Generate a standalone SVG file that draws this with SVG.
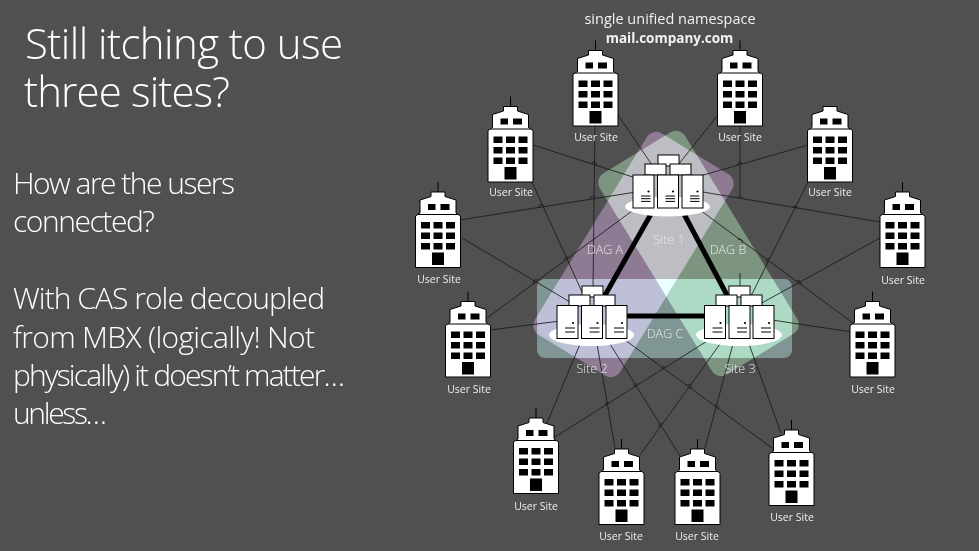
<svg xmlns="http://www.w3.org/2000/svg" width="979" height="551" viewBox="0 0 979 551">
<style>
text{font-family:"Open Sans","Noto Sans","Liberation Sans",sans-serif;fill:#fff}
.t{font-size:42px;font-weight:300}
.b{font-size:30px;font-weight:300}
.u{font-size:10.5px;text-anchor:middle;fill:#eee}
.d{font-size:12.5px;text-anchor:middle;fill:#e8e8e8;font-weight:300}
.n{font-size:14.5px;text-anchor:middle;fill:#f2f2f2}
.m{font-size:13.5px;font-weight:700;text-anchor:middle;fill:#f2f2f2}
.dag{mix-blend-mode:plus-lighter}
.thin{stroke:#1a1a1a;stroke-width:.85;fill:none}
.thick{stroke:#000;stroke-width:5;fill:none}
.ant{stroke:#000;stroke-width:1}
</style>
<defs>
<g id="bldg">
<path d="M-7 10H7V14.500L18 18V31L22.500 34V85.500H-22.500V34L-18 31V18L-7 14.500Z" fill="#fff" stroke="#000" stroke-width="1"/>
<path d="M-20 32.500H20" stroke="#000" stroke-width="1"/>
<path d="M-10 22h7.500v6h-7.500zM2.500 22h9v6h-9zM-17 40h9v6.500h-9zM-4.500 40h9v6.500h-9zM8 40h9v6.500h-9zM-17 50.500h9v6.500h-9zM-4.500 50.500h9v6.500h-9zM8 50.500h9v6.500h-9zM-17 61h9v6.500h-9zM-4.500 61h9v6.500h-9zM8 61h9v6.500h-9zM-6 70.500h12v12.500h-12z" fill="#000"/>
</g>
<g id="srv3">
<rect width="21" height="33" fill="#fff" stroke="#000" stroke-width="1"/>
<circle cx="15.500" cy="16.500" r="1.100" fill="#000"/>
<path d="M8 21h9.500M8 23.700h9.500M8 26.400h9.500" stroke="#000" stroke-width="1"/>
</g>
<g id="srv2">
<rect width="21" height="33" fill="#fff" stroke="#000" stroke-width="1"/>
<circle cx="16" cy="17.500" r="1.100" fill="#000"/>
<path d="M8 22.500h10M8 26.500h10" stroke="#000" stroke-width="1"/>
</g>
<rect id="blade" width="21" height="11" fill="#fff" stroke="#000" stroke-width="1"/>
</defs>
<rect width="979" height="551" fill="#505050"/>

<g id="title">
<text class="t" x="25" y="59" textLength="318">Still itching to use</text>
<text class="t" x="24" y="107" textLength="206">three sites?</text>
</g>
<g id="body">
<text class="b" x="13" y="194" textLength="222">How are the users</text>
<text class="b" x="13" y="232" textLength="142">connected?</text>
<text class="b" x="13" y="309" textLength="312">With CAS role decoupled</text>
<text class="b" x="13" y="348" textLength="302">from MBX (logically! Not</text>
<text class="b" x="13" y="386" textLength="332">physically) it doesn’t matter…</text>
<text class="b" x="13" y="424" textLength="94">unless…</text>
</g>
<g id="namespace">
<text class="n" x="670" y="24">single unified namespace</text>
<text class="m" x="669.500" y="43">mail.company.com</text>
</g>

<g id="dags">
<rect id="dag-a" class="dag" x="-118" y="-50" width="236" height="100" rx="11" transform="translate(633.500 254.500) rotate(-58.500)" fill="#3f2a44"/>
<rect id="dag-b" class="dag" x="-118" y="-50" width="236" height="100" rx="11" transform="translate(698.500 253.500) rotate(58.500)" fill="#2d4430"/>
<rect id="dag-c" class="dag" x="537" y="279" width="255" height="79" rx="8" fill="#2f4644"/>
</g>

<g id="connectors">
<path class="thin" d="M595 126L593 290"/>
<path class="thin" d="M618 115L652 165"/>
<path class="thin" d="M740 126V196M740 273V290"/>
<path class="thin" d="M718 115L678 165"/>
<path class="thin" d="M533 145L636 178"/>
<path class="thin" d="M532 182L582 292"/>
<path class="thin" d="M460 220L636 192"/>
<path class="thin" d="M462 238L570 302"/>
<path class="thin" d="M808 145L700 176"/>
<path class="thin" d="M808 182L748 302"/>
<path class="thin" d="M880 222L703 192"/>
<path class="thin" d="M880 238L760 304"/>
<path class="thin" d="M490 330L560 321"/>
<path class="thin" d="M487 318L636 208"/>
<path class="thin" d="M852 332L772 320"/>
<path class="thin" d="M853 323L700 210"/>
<path class="thin" d="M547 423L580 344"/>
<path class="thin" d="M555 437L712 338"/>
<path class="thin" d="M615 448L597 344"/>
<path class="thin" d="M640 455L720 344"/>
<path class="thin" d="M705 448L733 344"/>
<path class="thin" d="M680 456L610 344"/>
<path class="thin" d="M781 433L749 344"/>
<path class="thin" d="M772 448L625 340"/>
<path class="thin" d="M590.500 199.200A2.500 2.500 0 0 1 595.500 198.400M538.500 207.500A2.500 2.500 0 0 1 543.500 206.700M565 261A2.500 2.500 0 0 1 569 258M534 283.500A2.500 2.500 0 0 1 538 280.500M591.600 163.700A2.500 2.500 0 0 1 596.400 165.300M737.600 165.200A2.500 2.500 0 0 1 742.400 163.800M737.600 197.900A2.500 2.500 0 0 1 742.400 198.700M792.600 207.600A2.500 2.500 0 0 1 797.400 208.400M767.500 262.900A2.500 2.500 0 0 1 769.700 258.500M796.500 281.500A2.500 2.500 0 0 1 800.500 284.500M605.400 405.800A2.500 2.500 0 0 1 609.400 403.200M634.300 387A2.500 2.500 0 0 1 638.300 384.400M661.800 369.700A2.500 2.500 0 0 1 665.800 367.100M687 385.500A2.500 2.500 0 0 1 691 388.500M714 405.600A2.500 2.500 0 0 1 718 408.500M659.600 427.800A2.500 2.500 0 0 1 662.500 423.800M738 240A2.500 2.500 0 0 1 742 243"/>
<path class="thick" d="M651 214L604 297"/>
<path class="thick" d="M684 214L728 297"/>
<path class="thick" d="M626 316H706"/>
</g>

<g id="site-1">
<ellipse cx="667.500" cy="206.500" rx="42.500" ry="10" fill="#fff"/>
<use href="#blade" x="658" y="155"/>
<use href="#blade" x="645" y="164"/>
<use href="#blade" x="670" y="164"/>
<use href="#srv3" x="633" y="175"/>
<use href="#srv3" x="657.500" y="175"/>
<use href="#srv3" x="682" y="175"/>
<text class="d" x="669" y="244">Site 1</text>
</g>
<g id="site-2">
<ellipse cx="591.500" cy="335" rx="42.500" ry="11" fill="#fff"/>
<use href="#blade" x="582" y="286"/>
<use href="#blade" x="569" y="295"/>
<use href="#blade" x="594" y="295"/>
<use href="#srv2" x="557" y="305.500"/>
<use href="#srv2" x="581.500" y="305.500"/>
<use href="#srv2" x="606" y="305.500"/>
<text class="d" x="592" y="373">Site 2</text>
</g>
<g id="site-3">
<ellipse cx="739" cy="335" rx="43" ry="11" fill="#fff"/>
<use href="#blade" x="729" y="286"/>
<use href="#blade" x="716" y="295"/>
<use href="#blade" x="741" y="295"/>
<use href="#srv2" x="704.500" y="305.500"/>
<use href="#srv2" x="729" y="305.500"/>
<use href="#srv2" x="753" y="305.500"/>
<text class="d" x="740" y="373">Site 3</text>
</g>
<g id="dag-labels">
<text class="d" x="605" y="254">DAG A</text>
<text class="d" x="728" y="254">DAG B</text>
<text class="d" x="665" y="338">DAG C</text>
</g>

<g id="u1"><path class="ant" d="M595.500 40.500V51"/><use href="#bldg" x="595.500" y="40.500"/><text class="u" x="596" y="141">User Site</text></g>
<g id="u2"><path class="ant" d="M740 40.500V51"/><use href="#bldg" x="740" y="40.500"/><text class="u" x="740" y="141">User Site</text></g>
<g id="u3"><path class="ant" d="M510.500 96.500V107"/><use href="#bldg" x="510.500" y="96.500"/><text class="u" x="511" y="196">User Site</text></g>
<g id="u4"><use href="#bldg" x="830" y="96.500"/><text class="u" x="830" y="196">User Site</text></g>
<g id="u5"><path class="ant" d="M438 182V192"/><use href="#bldg" x="438" y="182"/><text class="u" x="439" y="283">User Site</text></g>
<g id="u6"><path class="ant" d="M902.500 182V192"/><use href="#bldg" x="902.500" y="182"/><text class="u" x="903" y="284">User Site</text></g>
<g id="u7"><path class="ant" d="M468 291.500V302"/><use href="#bldg" x="468" y="291.500"/><text class="u" x="469" y="393">User Site</text></g>
<g id="u8"><path class="ant" d="M872.500 291.500V302"/><use href="#bldg" x="872.500" y="291.500"/><text class="u" x="873" y="393">User Site</text></g>
<g id="u9"><path class="ant" d="M536 408V418"/><use href="#bldg" x="536" y="408"/><text class="u" x="536" y="510">User Site</text></g>
<g id="u10"><path class="ant" d="M621.500 439V449"/><use href="#bldg" x="621.500" y="439"/><text class="u" x="621" y="540">User Site</text></g>
<g id="u11"><path class="ant" d="M697.500 439V449"/><use href="#bldg" x="697.500" y="439"/><text class="u" x="697" y="540">User Site</text></g>
<g id="u12"><path class="ant" d="M791.500 420V430"/><use href="#bldg" x="791.500" y="420"/><text class="u" x="792" y="521">User Site</text></g>
</svg>
